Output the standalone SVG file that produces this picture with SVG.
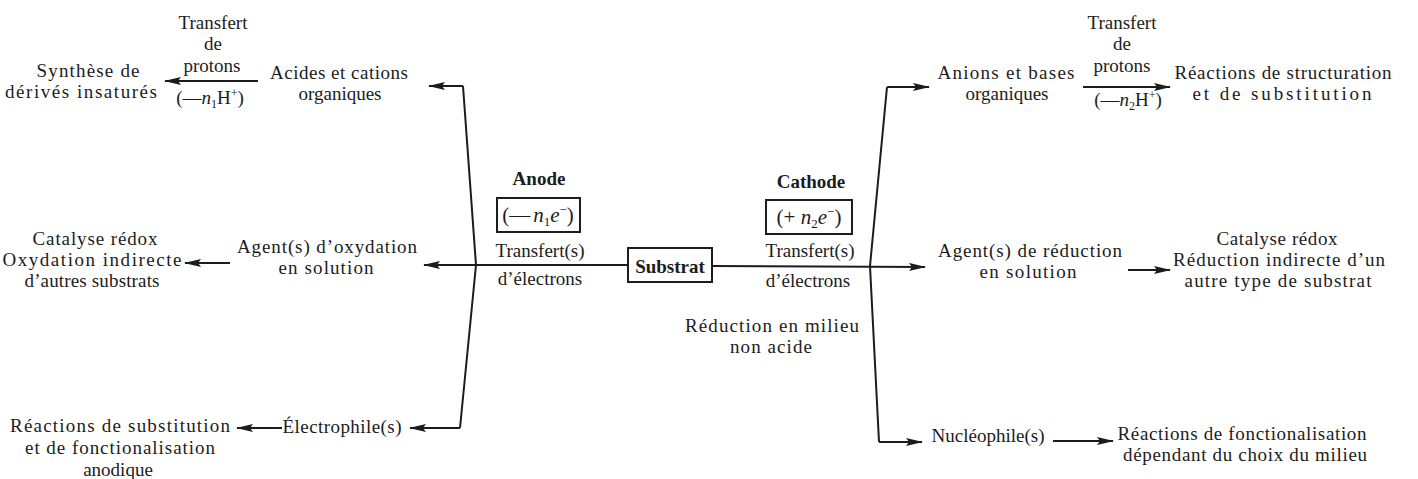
<svg xmlns="http://www.w3.org/2000/svg" width="1418" height="479" viewBox="0 0 1418 479">
  <style>
    .t { font-family: "Liberation Serif", "Times New Roman", serif; font-size: 19px; fill: #1c1c1c; text-anchor: middle; }
    .b { font-weight: bold; }
    .m { font-size: 21px; }
    .ln { stroke: #1c1c1c; stroke-width: 2; fill: none; }
    .arr { stroke: #1c1c1c; stroke-width: 2; fill: none; marker-end: url(#ah); }
    .box { stroke: #1c1c1c; stroke-width: 2; fill: #ffffff; }
  </style>
  <defs>
    <marker id="ah" markerUnits="userSpaceOnUse" markerWidth="18" markerHeight="10" refX="16" refY="4" orient="auto">
      <path d="M0,0 L17,4 L0,8 L3,4 Z" fill="#1c1c1c"/>
    </marker>
  </defs>
  <rect width="1418" height="479" fill="#ffffff"/>

  <!-- connectors -->
  <g id="connectors">
    <path class="ln" d="M463,86 L476,265 L460,428"/>
    <path class="ln" d="M887,87 L870,266 L879,442"/>
    <path class="arr" d="M463,86 L429,86"/>
    <path class="arr" d="M628,265 L424,265"/>
    <path class="arr" d="M460,428 L410,428"/>
    <path class="arr" d="M712,266 L925,267"/>
    <path class="arr" d="M887,87 L929,87"/>
    <path class="arr" d="M879,442 L922,442"/>
    <path class="arr" d="M258,81 L165,81"/>
    <path class="arr" d="M1083,87 L1170,87"/>
    <path class="arr" d="M230,263 L185,263"/>
    <path class="arr" d="M282,428 L237,428"/>
    <path class="arr" d="M1128,270 L1170,270"/>
    <path class="arr" d="M1053,441 L1113,441"/>
  </g>

  <!-- centre -->
  <g id="substrat">
    <rect class="box" x="628" y="248" width="84" height="34"/>
    <text class="t b" x="670" y="273">Substrat</text>
  </g>
  <g id="anode">
    <text class="t b" x="539" y="185">Anode</text>
    <rect class="box" x="497" y="198" width="83" height="34"/>
    <text class="t m" x="538" y="222">(—<tspan font-style="italic" dx="3">n</tspan><tspan font-size="13" dy="4">1</tspan><tspan font-style="italic" dy="-4">e</tspan><tspan font-size="13" dy="-8">−</tspan><tspan dy="8">)</tspan></text>
    <text class="t" x="540" y="257">Transfert(s)</text>
    <text class="t" x="540" y="285">d’électrons</text>
  </g>
  <g id="cathode">
    <text class="t b" x="811" y="188">Cathode</text>
    <rect class="box" x="766" y="200" width="86" height="34"/>
    <text class="t m" x="809" y="224">(+ <tspan font-style="italic">n</tspan><tspan font-size="13" dy="4">2</tspan><tspan font-style="italic" dy="-4">e</tspan><tspan font-size="13" dy="-8">−</tspan><tspan dy="8">)</tspan></text>
    <text class="t" x="810" y="257">Transfert(s)</text>
    <text class="t" x="808" y="287">d’électrons</text>
    <text class="t" x="772" y="332" textLength="174" lengthAdjust="spacing">Réduction en milieu</text>
    <text class="t" x="771" y="353" textLength="82" lengthAdjust="spacing">non acide</text>
  </g>

  <!-- anode side -->
  <g id="acides">
    <text class="t" x="339" y="79" textLength="138" lengthAdjust="spacing">Acides et cations</text>
    <text class="t" x="340" y="100">organiques</text>
  </g>
  <g id="protons-anode">
    <text class="t" x="213" y="29">Transfert</text>
    <text class="t" x="213" y="50">de</text>
    <text class="t" x="212" y="72">protons</text>
    <text class="t" x="210" y="104">(—<tspan font-style="italic">n</tspan><tspan font-size="12" dy="4">1</tspan><tspan dy="-4">H</tspan><tspan font-size="12" dy="-7">+</tspan><tspan dy="7">)</tspan></text>
  </g>
  <g id="synthese">
    <text class="t" x="88" y="77" textLength="103" lengthAdjust="spacing">Synthèse de</text>
    <text class="t" x="81" y="98" textLength="152" lengthAdjust="spacing">dérivés insaturés</text>
  </g>
  <g id="agent-oxydation">
    <text class="t" x="327" y="253" textLength="180" lengthAdjust="spacing">Agent(s) d’oxydation</text>
    <text class="t" x="326" y="274" textLength="95" lengthAdjust="spacing">en solution</text>
  </g>
  <g id="catalyse-ox">
    <text class="t" x="95" y="245" textLength="125" lengthAdjust="spacing">Catalyse rédox</text>
    <text class="t" x="92" y="266" textLength="179" lengthAdjust="spacing">Oxydation indirecte</text>
    <text class="t" x="92" y="287" textLength="135" lengthAdjust="spacing">d’autres substrats</text>
  </g>
  <g id="electrophile">
    <text class="t" x="342" y="433" textLength="119" lengthAdjust="spacing">Électrophile(s)</text>
  </g>
  <g id="substitution-anodique">
    <text class="t" x="120" y="432" textLength="220" lengthAdjust="spacing">Réactions de substitution</text>
    <text class="t" x="120" y="454" textLength="190" lengthAdjust="spacing">et de fonctionalisation</text>
    <text class="t" x="118" y="476">anodique</text>
  </g>

  <!-- cathode side -->
  <g id="anions">
    <text class="t" x="1006" y="79" textLength="137" lengthAdjust="spacing">Anions et bases</text>
    <text class="t" x="1007" y="100">organiques</text>
  </g>
  <g id="protons-cathode">
    <text class="t" x="1122" y="29">Transfert</text>
    <text class="t" x="1122" y="50">de</text>
    <text class="t" x="1122" y="72">protons</text>
    <text class="t" x="1128" y="106">(—<tspan font-style="italic">n</tspan><tspan font-size="12" dy="4">2</tspan><tspan dy="-4">H</tspan><tspan font-size="12" dy="-7">+</tspan><tspan dy="7">)</tspan></text>
  </g>
  <g id="structuration">
    <text class="t" x="1283" y="79" textLength="217" lengthAdjust="spacing">Réactions de structuration</text>
    <text class="t" x="1282" y="100" textLength="179" lengthAdjust="spacing">et de substitution</text>
  </g>
  <g id="agent-reduction">
    <text class="t" x="1030" y="257" textLength="184" lengthAdjust="spacing">Agent(s) de réduction</text>
    <text class="t" x="1028" y="278" textLength="97" lengthAdjust="spacing">en solution</text>
  </g>
  <g id="catalyse-red">
    <text class="t" x="1277" y="245" textLength="121" lengthAdjust="spacing">Catalyse rédox</text>
    <text class="t" x="1279" y="266" textLength="212" lengthAdjust="spacing">Réduction indirecte d’un</text>
    <text class="t" x="1278" y="287" textLength="187" lengthAdjust="spacing">autre type de substrat</text>
  </g>
  <g id="nucleophile">
    <text class="t" x="988" y="442" textLength="113" lengthAdjust="spacing">Nucléophile(s)</text>
  </g>
  <g id="fonctionalisation">
    <text class="t" x="1242" y="440" textLength="249" lengthAdjust="spacing">Réactions de fonctionalisation</text>
    <text class="t" x="1245" y="461" textLength="244" lengthAdjust="spacing">dépendant du choix du milieu</text>
  </g>
</svg>
